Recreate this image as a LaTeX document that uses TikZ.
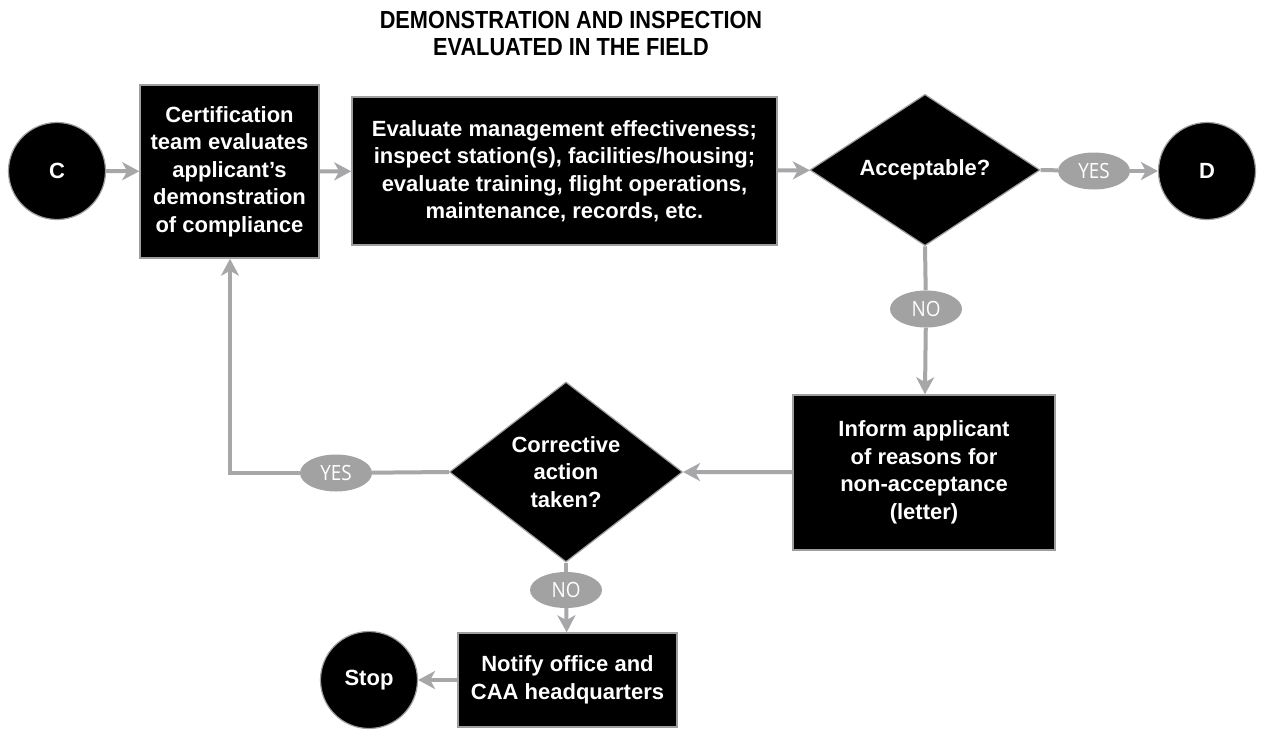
\documentclass[tikz,border=0pt]{standalone}
\usepackage{fontspec}
\setmainfont{Liberation Sans}
\newfontfamily\titlefont{Liberation Sans}[FakeStretch=0.88]
\newfontfamily\lblfont{Open Sans}[FakeStretch=0.9]
\usetikzlibrary{shapes.geometric,arrows.meta}
\definecolor{flowgray}{HTML}{A7A7AA}
\definecolor{edgegray}{HTML}{9E9E9E}
\definecolor{pillgray}{HTML}{A2A2A2}
\tikzset{
  flowtext/.style={text=white,font=\fontsize{22}{27.5}\selectfont\bfseries,align=center,inner sep=0pt},
  stepbox/.style={flowtext,rectangle,fill=black,draw=edgegray,line width=1.5pt},
  endcircle/.style={flowtext,circle,fill=black,draw=edgegray,line width=1.2pt,minimum size=97pt},
  decision/.style={flowtext,diamond,fill=black,draw=edgegray,line width=1.2pt},
  pill/.style={ellipse,fill=pillgray,text=white,inner sep=0pt,font=\lblfont\fontsize{21}{24}\selectfont,minimum width=72pt,minimum height=37pt},
  conn/.style={draw=flowgray,line width=4pt},
  arr/.style={conn,-{Stealth[length=17pt,width=18pt,inset=5pt]}}
}
\begin{document}
\begin{tikzpicture}[x=1pt,y=-1pt]
\useasboundingbox (0,0) rectangle (1264,729);
\fill[white] (0,0) rectangle (1264,729);

% heading
\node[font=\titlefont\bfseries\fontsize{24.7}{27}\selectfont,align=center,inner sep=0pt] (title) at (571,33.5)
  {DEMONSTRATION AND INSPECTION\\EVALUATED IN THE FIELD};

% main row
\node[endcircle] (c) at (57,171) {C};
\node[stepbox,minimum width=179pt,minimum height=173pt] (team) at (229.5,171.5)
  {Certification\\team evaluates\\applicant’s\\demonstration\\of compliance};
\node[stepbox,minimum width=425pt,minimum height=148pt] (eval) at (564.5,171)
  {Evaluate management effectiveness;\\inspect station(s), facilities/housing;\\evaluate training, flight operations,\\maintenance, records, etc.};
\node[decision,minimum width=230pt,minimum height=150pt] (ok) at (925,170) {\raisebox{-3pt}{Acceptable?}};
\node[pill] (yes1) at (1094,171) {YES};
\node[endcircle] (d) at (1207,171) {D};

% rejection branch
\node[pill] (no1) at (926,309) {NO};
\node[stepbox,minimum width=262pt,minimum height=155pt] (inform) at (924,472.5)
  {Inform applicant\\of reasons for\\non-acceptance\\(letter)};
\node[decision,minimum width=233pt,minimum height=147pt] (fix) at (566,472)
  {Corrective\\action\\taken?};
\node[pill] (yes2) at (336,473) {YES};
\node[pill,minimum height=36pt] (no2) at (566,590) {NO};
\node[stepbox,minimum width=219pt,minimum height=94pt] (notify) at (567.5,680)
  {Notify office and\\CAA headquarters};
\node[endcircle] (stop) at (369,680) {Stop};
\coordinate (corner) at (230,473);

% connectors
\draw[arr] (c) -- (team);
\draw[arr] (team) -- (eval);
\draw[arr] (eval) -- (ok);
\draw[conn] (ok.east) -- (yes1);
\draw[arr] (yes1) -- (d);
\draw[conn] (ok.south) -- (no1);
\draw[arr] (no1) -- (inform);
\draw[arr] (inform) -- (fix.east);
\draw[conn] (fix.west) -- (yes2);
\draw[arr] (yes2.west) -- (corner) -- (team.south -| corner);
\draw[conn] (fix.south) -- (no2);
\draw[arr] (no2) -- (notify);
\draw[arr] (notify) -- (stop);
\end{tikzpicture}
\end{document}
